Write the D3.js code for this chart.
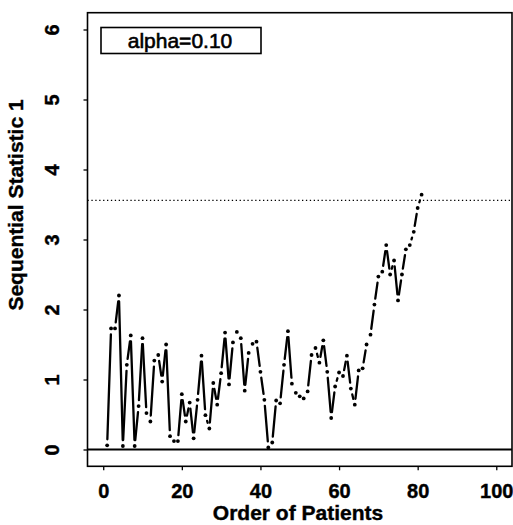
<!DOCTYPE html>
<html>
<head>
<meta charset="utf-8">
<script src="https://cdn.jsdelivr.net/npm/d3@7"></script>
<style>
  body { margin: 0; background: #fff; }
  svg { display: block; font-family: "Liberation Sans", Arial, sans-serif; }
</style>
</head>
<body>
<div id="chart"></div>
<script>
// sequential statistic for each patient (patient number = index + 1)
const patients = d3.range(1, 82);
const statValues = [
  0.06, 1.73, 1.73, 2.20, 0.05, 1.21, 1.63, 0.05, 0.62, 1.59,
  0.52, 0.40, 1.27, 1.35, 0.97, 1.50, 0.19, 0.12, 0.12, 0.79,
  0.40, 0.67, 0.16, 0.71, 1.34, 0.49, 0.30, 0.95, 0.64, 1.09,
  1.67, 0.93, 1.53, 1.68, 1.59, 0.84, 1.38, 1.51, 1.54, 1.11,
  0.71, 0.03, 0.10, 0.70, 0.66, 1.21, 1.69, 0.94, 0.81, 0.76,
  0.73, 0.83, 1.35, 1.45, 1.24, 1.56, 1.11, 0.45, 0.90, 1.10,
  1.05, 1.34, 0.87, 0.64, 1.13, 1.16, 1.50, 1.64, 2.07, 2.47,
  2.54, 2.92, 2.50, 2.70, 2.13, 2.50, 2.86, 2.92, 3.11, 3.45,
  3.64
];
const threshold = 3.56;
const xTicks = [0, 20, 40, 60, 80, 100];
const yTicks = [0, 1, 2, 3, 4, 5, 6];
const legendText = "alpha=0.10";

const width = 513, height = 525;
const plot = { left: 87.5, right: 512, top: 12.7, bottom: 466.3 };
const font = "'Liberation Sans', Arial, sans-serif";

const svg = d3.select("#chart").append("svg")
  .attr("width", width)
  .attr("height", height);

const x = d3.scaleLinear().domain([-4, 104]).range([plot.left, plot.right]);
const y = d3.scaleLinear().domain([-0.24, 6.24]).range([plot.bottom, plot.top]);

// box
svg.append("rect")
  .attr("x", plot.left).attr("y", plot.top)
  .attr("width", plot.right - plot.left).attr("height", plot.bottom - plot.top)
  .attr("fill", "none").attr("stroke", "#000").attr("stroke-width", 1.6);

// axes
const yAxis = svg.append("g")
  .attr("transform", `translate(${plot.left},0)`)
  .call(d3.axisLeft(y).tickValues(yTicks).tickSize(4).tickFormat(d3.format("d")));
yAxis.select(".domain").remove();
yAxis.selectAll("line").attr("stroke-width", 1.3);
yAxis.selectAll("text")
  .attr("transform", "rotate(-90)")
  .attr("x", 0).attr("y", -29).attr("dy", 0)
  .attr("text-anchor", "middle")
  .style("font-size", "20px").style("font-weight", "bold")
  .style("stroke", "#000").style("stroke-width", 0.4)
  .style("font-family", font);

const xAxis = svg.append("g")
  .attr("transform", `translate(0,${plot.bottom})`)
  .call(d3.axisBottom(x).tickValues(xTicks).tickSize(4).tickFormat(d3.format("d")));
xAxis.select(".domain").remove();
xAxis.selectAll("line").attr("stroke-width", 1.3);
xAxis.selectAll("text")
  .attr("y", 32).attr("dy", 0)
  .style("font-size", "20px").style("font-weight", "bold")
  .style("stroke", "#000").style("stroke-width", 0.4)
  .style("font-family", font);

// zero line and threshold
svg.append("line")
  .attr("x1", plot.left).attr("x2", plot.right)
  .attr("y1", y(0)).attr("y2", y(0))
  .attr("stroke", "#000").attr("stroke-width", 2);

svg.append("line")
  .attr("x1", plot.left).attr("x2", plot.right)
  .attr("y1", y(threshold)).attr("y2", y(threshold))
  .attr("stroke", "#000").attr("stroke-width", 1.3)
  .attr("stroke-dasharray", "1.3,2.6");

// type="b": segments stop short of the points
const pts = patients.map((p, i) => [x(p), y(statValues[i])]);
const gap = 6;
const segs = [];
for (let i = 0; i < pts.length - 1; i++) {
  const [x1, y1] = pts[i], [x2, y2] = pts[i + 1];
  const len = Math.hypot(x2 - x1, y2 - y1);
  if (len <= 2 * gap) continue;
  const ux = (x2 - x1) / len, uy = (y2 - y1) / len;
  segs.push([x1 + ux * gap, y1 + uy * gap, x2 - ux * gap, y2 - uy * gap]);
}
svg.append("g").selectAll("line").data(segs).join("line")
  .attr("x1", d => d[0]).attr("y1", d => d[1])
  .attr("x2", d => d[2]).attr("y2", d => d[3])
  .attr("stroke", "#000").attr("stroke-width", 2.3).attr("stroke-linecap", "round");

svg.append("g").selectAll("circle").data(pts).join("circle")
  .attr("cx", d => d[0]).attr("cy", d => d[1])
  .attr("r", 1.9).attr("fill", "#000");

// legend
svg.append("rect")
  .attr("x", 101).attr("y", 27.5).attr("width", 160).attr("height", 26)
  .attr("fill", "#fff").attr("stroke", "#000").attr("stroke-width", 1.6);
svg.append("text")
  .attr("x", 180).attr("y", 48).attr("text-anchor", "middle")
  .style("font-size", "21px").style("stroke", "#000").style("stroke-width", 0.6)
  .text(legendText);

// axis titles
svg.append("text")
  .attr("x", 298).attr("y", 520).attr("text-anchor", "middle")
  .style("font-size", "21px").style("font-weight", "bold")
  .style("stroke", "#000").style("stroke-width", 0.4)
  .text("Order of Patients");
svg.append("text")
  .attr("transform", "translate(23,205) rotate(-90)")
  .attr("text-anchor", "middle")
  .style("font-size", "21px").style("font-weight", "bold")
  .style("stroke", "#000").style("stroke-width", 0.4)
  .text("Sequential Statistic 1");
</script>
</body>
</html>
